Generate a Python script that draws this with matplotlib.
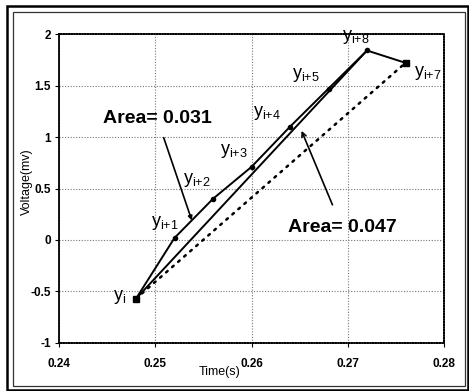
import numpy as np
import matplotlib
matplotlib.use("Agg")
import matplotlib.pyplot as plt
from matplotlib.patches import Rectangle

plt.rcParams['font.family'] = ['Liberation Sans', 'DejaVu Sans']
plt.rcParams['mathtext.default'] = 'regular'

# voltage samples around the peak
t = [0.248, 0.252, 0.256, 0.260, 0.264, 0.268, 0.272, 0.276]
v = [-0.57, 0.02, 0.40, 0.71, 1.10, 1.47, 1.84, 1.72]
names = ['i', 'i{+}1', 'i{+}2', 'i{+}3', 'i{+}4', 'i{+}5', 'i{+}8', 'i{+}7']
# label offsets (points) from each sample
offs = [(-11.5, 1.5), (-7, 11), (-11.5, 13.5), (-13, 11.5), (-16.5, 10), (-16, 9.5), (-8, 10), (16, -7)]

area_txt = ['Area= 0.031', 'Area= 0.047']

fig = plt.figure(figsize=(4.69, 3.91), dpi=100)
ax = fig.add_axes([0.1258, 0.1228, 0.8209, 0.7902])

# polyline through the samples
ax.plot(t, v, color='black', lw=1.4, marker='o', ms=3, zorder=5)
ax.plot(t[0], v[0], 's', color='black', ms=4, zorder=6)
ax.plot(t[-1], v[-1], 's', color='black', ms=4, zorder=6)
# chord to the peak
ax.plot([t[0], t[6]], [v[0], v[6]], color='black', lw=1.4, zorder=4)
# chord to the last sample
ax.plot([t[0], t[7]], [v[0], v[7]], color='black', lw=1.8, ls=(0, (0.8, 2.4)),
        dash_capstyle='round', zorder=4)

for x, y, n, o in zip(t, v, names, offs):
    ax.annotate(r'$y_{' + n + '}$', (x, y), xytext=o, textcoords='offset points',
                ha='center', va='center', fontsize=13)

ax.annotate(area_txt[0], xy=(0.2538, 0.19), xytext=(0.2502, 1.18),
            ha='center', va='center', fontsize=14, fontweight='bold',
            arrowprops=dict(arrowstyle='-|>', color='black', lw=1.2,
                            mutation_scale=6, shrinkA=6, shrinkB=0))
ax.annotate(area_txt[1], xy=(0.2652, 1.06), xytext=(0.2694, 0.12),
            ha='center', va='center', fontsize=14, fontweight='bold',
            arrowprops=dict(arrowstyle='->', color='black', lw=1.2,
                            mutation_scale=8, shrinkA=9, shrinkB=0))

ax.set_xlim(0.24, 0.28)
ax.set_ylim(-1, 2)
ax.set_xticks([0.24, 0.25, 0.26, 0.27, 0.28])
ax.set_yticks([-1, -0.5, 0, 0.5, 1, 1.5, 2])
ax.set_xticklabels(['0.24', '0.25', '0.26', '0.27', '0.28'])
ax.set_yticklabels(['-1', '-0.5', '0', '0.5', '1', '1.5', '2'])
ax.tick_params(axis='both', labelsize=8.5, length=3, color='black')
ax.tick_params(axis='x', pad=8)
ax.tick_params(axis='y', pad=3)
for lab in ax.get_xticklabels() + ax.get_yticklabels():
    lab.set_fontweight('bold')

ax.grid(True, color='#777777', ls=(0, (1, 1.5)), lw=0.8)
ax.set_axisbelow(True)

ax.spines['left'].set_linewidth(1.3)
for s in ['top', 'right', 'bottom']:
    ax.spines[s].set_linestyle((0, (1, 0.6)))
    ax.spines[s].set_linewidth(1.2)

ax.set_xlabel('Time(s)', fontsize=9, va='center')
ax.xaxis.set_label_coords(0.416, -0.094)
ax.set_ylabel('Voltage(mv)', fontsize=9, va='center')
ax.yaxis.set_label_coords(-0.083, 0.521)

# frame around the whole figure
fig.patches.append(Rectangle((7 / 469, 1 - 390 / 391), 461 / 469, 384 / 391,
                             transform=fig.transFigure, fill=False, lw=1.8, ec='black'))
fig.patches.append(Rectangle((13 / 469, 1 - 386 / 391), 452 / 469, 374 / 391,
                             transform=fig.transFigure, fill=False, lw=0.9, ec='#333333'))

fig.savefig('out.png', dpi=100)
